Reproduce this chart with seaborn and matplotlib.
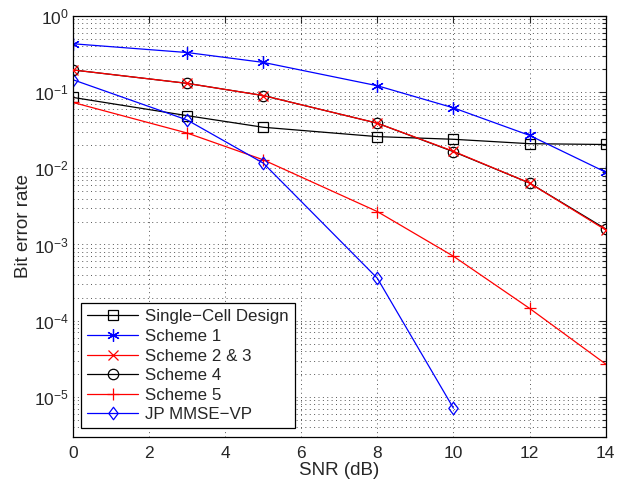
import matplotlib
matplotlib.use("Agg")
import matplotlib.pyplot as plt
import numpy as np
import pandas as pd
import seaborn as sns
from matplotlib.path import Path
from matplotlib.ticker import LogLocator, NullFormatter

snr = [0, 3, 5, 8, 10, 12, 14]
snr_jp = [0, 3, 5, 8, 10]

single_cell = [0.085, 0.049, 0.0345, 0.026, 0.024, 0.021, 0.0205]
scheme1 = [0.43, 0.33, 0.245, 0.121, 0.062, 0.027, 0.0089]
scheme23 = [0.195, 0.13, 0.09, 0.039, 0.0167, 0.0064, 0.00155]
scheme4 = [0.195, 0.13, 0.09, 0.039, 0.0165, 0.0064, 0.0016]
scheme5 = [0.073, 0.029, 0.0129, 0.0027, 0.0007, 0.000145, 0.000027]
jp_mmse = [0.145, 0.043, 0.0117, 0.00036, 0.0000071]

sns.set_style("white")
plt.rcParams["font.family"] = ["Liberation Sans", "DejaVu Sans"]
plt.rcParams["mathtext.fontset"] = "custom"
plt.rcParams["mathtext.rm"] = "Liberation Sans"
plt.rcParams["mathtext.it"] = "Liberation Sans"
plt.rcParams["axes.unicode_minus"] = True

# matlab style diamond, a bit taller than wide
diamond = Path([(0, 1), (0.75, 0), (0, -1), (-0.75, 0), (0, 1)],
               [Path.MOVETO, Path.LINETO, Path.LINETO, Path.LINETO, Path.CLOSEPOLY])

fig = plt.figure(figsize=(6.25, 4.8), dpi=100)
ax = fig.add_axes([0.1168, 0.0902, 0.8522, 0.8768])

series = [
    ("Single\u2212Cell Design", snr, single_cell, "black", "s", 6.5, 2),
    ("Scheme 1", snr, scheme1, "blue", (6, 2, 0), 9, 2),
    ("Scheme 2 & 3", snr, scheme23, "red", "x", 6.5, 4),
    ("Scheme 4", snr, scheme4, "black", "o", 7.5, 3),
    ("Scheme 5", snr, scheme5, "red", "+", 9, 2),
    ("JP MMSE\u2212VP", snr_jp, jp_mmse, "blue", diamond, 9, 2),
]

for label, xs, ys, color, marker, ms, z in series:
    df = pd.DataFrame({"snr": xs, "ber": ys})
    sns.lineplot(
        data=df, x="snr", y="ber", ax=ax, color=color, marker=marker,
        markersize=ms, markerfacecolor="none", markeredgecolor=color,
        markeredgewidth=0.9, linewidth=0.9, label=label, zorder=z,
    )

ax.set_yscale("log")
ax.set_xlim(0, 14)
ax.set_ylim(3e-6, 1)
ax.set_xticks([0, 2, 4, 6, 8, 10, 12, 14])
ax.yaxis.set_major_locator(LogLocator(base=10, numticks=10))
ax.yaxis.set_minor_locator(LogLocator(base=10, subs=np.arange(2, 10), numticks=20))
ax.yaxis.set_minor_formatter(NullFormatter())

grid_style = dict(color="#555555", linestyle=(0, (1, 3.5)), linewidth=0.7)
ax.grid(True, which="major", axis="both", **grid_style)
ax.grid(True, which="minor", axis="y", **grid_style)

ax.tick_params(which="both", direction="in", top=True, right=True, labelsize=12.5)
ax.tick_params(which="major", length=5, width=0.8)
ax.tick_params(which="minor", length=3, width=0.8)
ax.tick_params(axis="x", which="major", pad=7)
ax.tick_params(axis="y", which="major", pad=3)
for sp in ax.spines.values():
    sp.set_color("black")
    sp.set_linewidth(0.9)

ax.set_xlabel("SNR (dB)", fontsize=13.5, labelpad=0.5)
ax.set_ylabel("Bit error rate", fontsize=13.5, labelpad=1)

leg = ax.legend(loc="lower left", fontsize=12.2, frameon=True, fancybox=False,
                edgecolor="black", framealpha=1, labelspacing=0.27,
                handlelength=3.0, handletextpad=0.4, borderpad=0.35,
                borderaxespad=0.5)
leg.get_frame().set_linewidth(0.9)

fig.savefig("out.png", dpi=100)
